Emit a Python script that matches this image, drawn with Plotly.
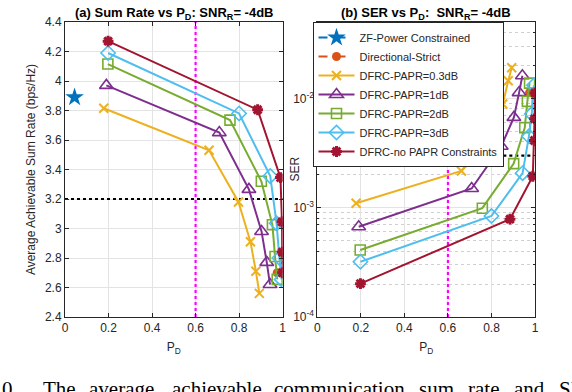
import plotly.graph_objects as go
from plotly.subplots import make_subplots

# ---- data ----
zf_pd = [0.044]
zf_rate = [3.89]
dir_pd = [0.975]
dir_rate = [2.70]
dir_ser = [0.0113]

pd_03 = [0.178, 0.662, 0.797, 0.852, 0.877, 0.893]
rate_03 = [3.815, 3.53, 3.18, 2.91, 2.71, 2.56]
ser_03 = [1.1e-3, 2.17e-3, 4.84e-3, 8.9e-3, 1.45e-2, 1.91e-2]

pd_1 = [0.19, 0.709, 0.845, 0.903, 0.927, 0.942]
rate_1 = [3.97, 3.65, 3.265, 2.98, 2.77, 2.62]
ser_1 = [6.7e-4, 1.5e-3, 3.65e-3, 6.7e-3, 1.13e-2, 1.61e-2]

pd_2 = [0.197, 0.758, 0.902, 0.953, 0.965, 0.975]
rate_2 = [4.115, 3.735, 3.32, 3.025, 2.81, 2.655]
ser_2 = [4.1e-4, 9.9e-4, 2.53e-3, 5.4e-3, 9.4e-3, 1.38e-2]

pd_3 = [0.198, 0.80, 0.943, 0.972, 0.985, 0.995]
rate_3 = [4.19, 3.78, 3.355, 3.035, 2.80, 2.655]
ser_3 = [3.2e-4, 8.4e-4, 2.07e-3, 4.5e-3, 7.2e-3, 1.32e-2]

pd_inf = [0.198, 0.885, 0.99, 0.997, 0.998, 1.0]
rate_inf = [4.27, 3.805, 3.345, 3.045, 2.84, 2.70]
ser_inf = [2.02e-4, 7.85e-4, 1.94e-3, 4.12e-3, 6.5e-3, 1.12e-2]

rate_req = 3.2
ser_req = 3e-3
pd_req = 0.6

# caption words (justified paper text under the figure)
caption_words = ['Fig. 10.', 'The', 'average', 'achievable', 'communication',
                 'sum', 'rate', 'and', 'SER']
caption_left = [-49, 41, 87, 170, 272, 417, 466, 512, 557]

# MATLAB default palette
C_BLUE = '#0072BD'
C_ORANGE = '#D95319'
C_YELLOW = '#EDB120'
C_PURPLE = '#7E2F8E'
C_GREEN = '#77AC30'
C_CYAN = '#4DBEEE'
C_RED = '#A2142F'

FONT = 'Arial, Liberation Sans, sans-serif'
AXC = '#262626'

W, H = 572, 392
ML, MR, MT, MB = 65, 37, 22, 75
PW, PH = W - ML - MR, H - MT - MB

fig = make_subplots(rows=1, cols=2, horizontal_spacing=(311.7 - 277) / PW)

series = [
    ('DFRC-PAPR=0.3dB', pd_03, rate_03, ser_03, C_YELLOW,
     dict(symbol='x-thin-open', size=9, line=dict(width=2, color=C_YELLOW))),
    ('DFRC-PAPR=1dB', pd_1, rate_1, ser_1, C_PURPLE,
     dict(symbol='triangle-up-open', size=12, line=dict(width=1.6, color=C_PURPLE))),
    ('DFRC-PAPR=2dB', pd_2, rate_2, ser_2, C_GREEN,
     dict(symbol='square-open', size=10, line=dict(width=1.6, color=C_GREEN))),
    ('DFRC-PAPR=3dB', pd_3, rate_3, ser_3, C_CYAN,
     dict(symbol='diamond-open', size=11, line=dict(width=1.6, color=C_CYAN))),
    ('DFRC-no PAPR Constraints', pd_inf, rate_inf, ser_inf, C_RED,
     dict(symbol='asterisk-open', size=9, line=dict(width=3, color=C_RED))),
]

# ── reference lines (drawn first, below the curves)
fig.add_trace(go.Scatter(x=[0, 1], y=[rate_req, rate_req], mode='lines',
                         line=dict(color='black', width=2.2, dash='dot'),
                         showlegend=False, hoverinfo='skip'), row=1, col=1)
fig.add_trace(go.Scatter(x=[pd_req, pd_req], y=[2.4, 4.4], mode='lines',
                         line=dict(color='#FF00FF', width=2.2, dash='dot'),
                         showlegend=False, hoverinfo='skip'), row=1, col=1)
fig.add_trace(go.Scatter(x=[0, 0.985], y=[ser_req, ser_req], mode='lines',
                         line=dict(color='black', width=2.2, dash='dot'),
                         showlegend=False, hoverinfo='skip'), row=1, col=2)
fig.add_trace(go.Scatter(x=[pd_req, pd_req], y=[1e-4, 0.05], mode='lines',
                         line=dict(color='#FF00FF', width=2.2, dash='dot'),
                         showlegend=False, hoverinfo='skip'), row=1, col=2)

# ── baselines
fig.add_trace(go.Scatter(x=zf_pd, y=zf_rate, mode='lines+markers',
                         name='ZF-Power Constrained',
                         line=dict(color=C_BLUE, width=2, dash='dash'),
                         marker=dict(symbol='star', size=14, color=C_BLUE)),
              row=1, col=1)
fig.add_trace(go.Scatter(x=dir_pd, y=dir_rate, mode='lines+markers',
                         name='Directional-Strict',
                         line=dict(color=C_ORANGE, width=2, dash='dash'),
                         marker=dict(symbol='circle', size=9, color=C_ORANGE)),
              row=1, col=1)
fig.add_trace(go.Scatter(x=dir_pd, y=dir_ser, mode='markers', showlegend=False,
                         marker=dict(symbol='circle', size=9, color=C_ORANGE)),
              row=1, col=2)

# ── DFRC curves
for name, xs, rate, ser, col, mk in series:
    fig.add_trace(go.Scatter(x=xs, y=rate, mode='lines+markers', name=name,
                             line=dict(color=col, width=2), marker=mk),
                  row=1, col=1)
    fig.add_trace(go.Scatter(x=xs, y=ser, mode='lines+markers', name=name,
                             showlegend=False,
                             line=dict(color=col, width=2), marker=mk),
                  row=1, col=2)

axis_common = dict(showline=True, linecolor=AXC, linewidth=1, mirror='ticks',
                   ticks='inside', ticklen=4, tickcolor=AXC, automargin=False,
                   showgrid=True, gridcolor='#e3e3e3', gridwidth=1,
                   zeroline=False, tickfont=dict(size=12, color=AXC, family=FONT))

fig.update_xaxes(range=[0, 1], dtick=0.2, **axis_common)
fig.update_xaxes(title=dict(text='P<sub>D</sub>', font=dict(size=12, color=AXC),
                            standoff=8))
fig.update_yaxes(range=[2.4, 4.4], dtick=0.2, row=1, col=1, **axis_common,
                 title=dict(text='Average Achievable Sum Rate (bps/Hz)',
                            font=dict(size=12, color=AXC), standoff=6))
fig.update_yaxes(type='log', range=[-4, -1.301], row=1, col=2,
                 tickvals=[1e-4, 1e-3, 1e-2],
                 ticktext=['10<sup>-4</sup>', '10<sup>-3</sup>', '10<sup>-2</sup>'],
                 minor=dict(showgrid=True, griddash='dot', gridcolor='#cfcfcf',
                            ticks='inside', ticklen=2, tickcolor=AXC,
                            tickvals=[m * 10 ** e for e in (-4, -3, -2)
                                      for m in range(2, 10) if m * 10 ** e < 0.05]),
                 **axis_common)

# titles
fig.add_annotation(text='<b>(a) Sum Rate vs P<sub>D</sub>: SNR<sub>R</sub>= -4dB</b>',
                   xref='x domain', yref='y domain', x=0.5, y=1.0,
                   xanchor='center', yanchor='bottom', yshift=-2, showarrow=False,
                   font=dict(size=13, color='black', family=FONT))
fig.add_annotation(text='<b>(b) SER vs P<sub>D</sub>:  SNR<sub>R</sub>= -4dB</b>',
                   xref='x2 domain', yref='y2 domain', x=0.5, y=1.0,
                   xanchor='center', yanchor='bottom', yshift=-2, showarrow=False,
                   font=dict(size=13, color='black', family=FONT))
fig.add_annotation(text='SER', textangle=-90, xref='paper', yref='paper',
                   x=(294 - ML) / PW, y=0.5, xanchor='center',
                   yanchor='middle', showarrow=False,
                   font=dict(size=12, color=AXC, family=FONT))

# caption fragment below the figure, cut by the bottom edge as in the source
for word, left in zip(caption_words, caption_left):
    fig.add_annotation(text=word, xref='paper', yref='paper',
                       x=(left - ML) / PW, y=-(375 - (H - MB)) / PH,
                       xanchor='left', yanchor='top', showarrow=False,
                       font=dict(size=21, color='black',
                                 family='Liberation Serif, Times New Roman, serif'))

fig.update_layout(
    width=W, height=H,
    margin=dict(l=ML, r=MR, t=MT, b=MB),
    plot_bgcolor='white', paper_bgcolor='white',
    font=dict(family=FONT, size=12, color=AXC),
    legend=dict(x=(312.5 - ML) / PW, y=1.0, xanchor='left', yanchor='top',
                bgcolor='white', bordercolor=AXC, borderwidth=1,
                font=dict(size=11, color=AXC, family=FONT),
                itemwidth=36, tracegroupgap=0, itemsizing='trace'),
)

fig.write_html("out.html",
               config={'displayModeBar': False},
               post_script="document.body.style.margin='0';"
                           "document.body.style.overflow='hidden';")
